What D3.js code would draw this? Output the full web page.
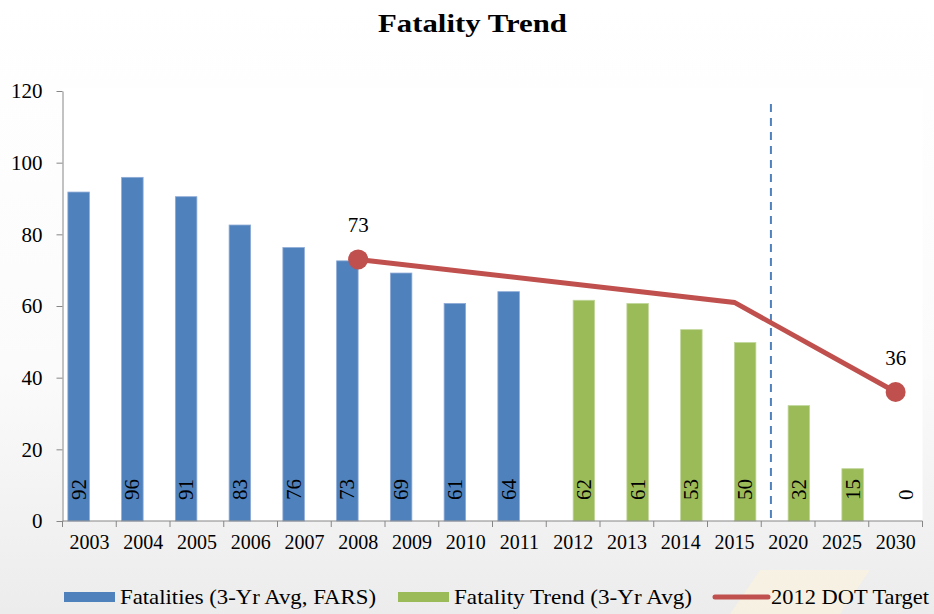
<!DOCTYPE html>
<html>
<head>
<meta charset="utf-8">
<script src="https://cdn.jsdelivr.net/npm/d3@7"></script>
<style>
  body { margin: 0; background: #fff; }
  svg { display: block; }
  text { font-family: "Liberation Serif", "Times New Roman", serif; }
</style>
</head>
<body>
<svg id="chart" width="934" height="614"></svg>
<script>
// data
const years = ["2003", "2004", "2005", "2006", "2007", "2008", "2009", "2010", "2011",
               "2012", "2013", "2014", "2015", "2020", "2025", "2030"];
const fatalities = [91.8, 95.9, 90.5, 82.6, 76.3, 72.6, 69.2, 60.7, 64.0,
                    null, null, null, null, null, null, null];
const fatalityTrend = [null, null, null, null, null, null, null, null, null,
                       61.6, 60.7, 53.4, 49.8, 32.2, 14.6, 0];
const dotTarget = [null, null, null, null, null, 73, null, null, null,
                   null, null, null, 61, null, null, 36];
const targetMarkers = ["2008", "2030"];
const yTicks = [0, 20, 40, 60, 80, 100, 120];
const seriesNames = ["Fatalities (3-Yr Avg, FARS)", "Fatality Trend (3-Yr Avg)", "2012 DOT Target"];

const svg = d3.select("#chart");
const W = 934, H = 614;
const plotL = 62.5, plotR = 922.5, plotT = 91, plotB = 521;

// background, faint gray toward the bottom
const defs = svg.append("defs");
const grad = defs.append("linearGradient").attr("id", "bg").attr("x1", 0).attr("y1", 0).attr("x2", 0).attr("y2", 1);
grad.append("stop").attr("offset", "0%").attr("stop-color", "#ffffff");
grad.append("stop").attr("offset", "60%").attr("stop-color", "#fbfbfb");
grad.append("stop").attr("offset", "100%").attr("stop-color", "#ececec");
svg.append("rect").attr("width", W).attr("height", H).attr("fill", "url(#bg)");
svg.append("path")
  .attr("d", "M730,614 L760,570 L870,570 L840,614 Z")
  .attr("fill", "#fbf3dc").attr("opacity", 0.6);
svg.append("rect")
  .attr("x", plotL).attr("y", plotT - 3)
  .attr("width", plotR - plotL).attr("height", plotB - plotT + 3)
  .attr("fill", "#fff");

// scales
const x = d3.scaleBand().domain(years).range([plotL, plotR]).paddingInner(0).paddingOuter(0);
const x1 = d3.scaleBand().domain(["fat", "trend"]).range([0, x.bandwidth()]).paddingInner(0).paddingOuter(0.25);
const y = d3.scaleLinear().domain([0, 120]).range([plotB, plotT]);

// title (source text is a bit wide, so stretch to its width)
svg.append("text")
  .attr("x", 378).attr("y", 32)
  .attr("font-size", 26).attr("font-weight", "bold")
  .attr("textLength", 189).attr("lengthAdjust", "spacingAndGlyphs")
  .attr("fill", "#000")
  .text("Fatality Trend");

// bars
function drawBars(values, key, color, edge) {
  const data = years.map((yr, i) => ({ yr, v: values[i] })).filter(d => d.v != null);
  svg.append("g").selectAll("rect")
    .data(data.filter(d => d.v > 0))
    .enter().append("rect")
    .attr("x", d => x(d.yr) + x1(key))
    .attr("y", d => y(d.v))
    .attr("width", x1.bandwidth())
    .attr("height", d => y(0) - y(d.v))
    .attr("fill", color)
    .attr("stroke", edge)
    .attr("stroke-width", 0.8);

  svg.append("g").selectAll("text")
    .data(data)
    .enter().append("text")
    .attr("transform", d => `translate(${x(d.yr) + x1(key) + x1.bandwidth() / 2},500) rotate(-90)`)
    .attr("dominant-baseline", "central")
    .attr("font-size", 21)
    .attr("fill", "#000")
    .text(d => d3.format(".0f")(d.v));
}
drawBars(fatalities, "fat", "#4f81bd", "#8eaad6");
drawBars(fatalityTrend, "trend", "#9bbb59", "#c0d69a");

// dashed divider between history and forecast
svg.append("line")
  .attr("x1", x("2020") + x.bandwidth() * 0.18).attr("x2", x("2020") + x.bandwidth() * 0.18)
  .attr("y1", 104).attr("y2", plotB)
  .attr("stroke", "#4f81bd").attr("stroke-width", 2)
  .attr("stroke-dasharray", "8,6");

// axes
const yAxis = svg.append("g")
  .attr("transform", `translate(${plotL},0)`)
  .call(d3.axisLeft(y).tickValues(yTicks).tickSize(6).tickSizeOuter(0).tickPadding(14));
yAxis.selectAll("text").attr("font-size", 21).attr("fill", "#000")
  .style("font-family", '"Liberation Serif", serif');

const xAxis = svg.append("g")
  .attr("transform", `translate(0,${plotB})`)
  .call(d3.axisBottom(x).tickSize(0).tickSizeOuter(0).tickPadding(14));
xAxis.selectAll("text").attr("font-size", 20).attr("fill", "#000")
  .style("font-family", '"Liberation Serif", serif');
xAxis.selectAll(".domain").remove();

const bounds = years.map(d => x(d)).concat([plotR]);
svg.append("g").selectAll("line")
  .data(bounds)
  .enter().append("line")
  .attr("x1", d => d).attr("x2", d => d)
  .attr("y1", plotB).attr("y2", plotB + 6)
  .attr("stroke", "#868686");
svg.append("line")
  .attr("x1", plotL).attr("x2", plotR)
  .attr("y1", plotB).attr("y2", plotB)
  .attr("stroke", "#868686");
svg.selectAll(".domain, .tick line").attr("stroke", "#868686");

// DOT target line
const targetPts = years.map((yr, i) => ({ yr, v: dotTarget[i] })).filter(d => d.v != null);
const cx = d => x(d.yr) + x.bandwidth() / 2;
svg.append("path")
  .datum(targetPts)
  .attr("d", d3.line().x(cx).y(d => y(d.v)))
  .attr("fill", "none")
  .attr("stroke", "#c0504d")
  .attr("stroke-width", 5);

const marks = targetPts.filter(d => targetMarkers.includes(d.yr));
svg.append("g").selectAll("circle")
  .data(marks)
  .enter().append("circle")
  .attr("cx", cx).attr("cy", d => y(d.v))
  .attr("r", 10)
  .attr("fill", "#c0504d");
svg.append("g").selectAll("text")
  .data(marks)
  .enter().append("text")
  .attr("x", cx).attr("y", d => y(d.v) - 27)
  .attr("text-anchor", "middle")
  .attr("font-size", 21)
  .attr("fill", "#000")
  .text(d => d.v);

// legend
const legend = svg.append("g").attr("transform", "translate(0,597)");
const legendItems = [
  { name: seriesNames[0], x: 64, w: 256, color: "#4f81bd", type: "rect" },
  { name: seriesNames[1], x: 398, w: 238, color: "#9bbb59", type: "rect" },
  { name: seriesNames[2], x: 715, w: 158, color: "#c0504d", type: "line" }
];
legendItems.forEach(it => {
  if (it.type === "rect") {
    legend.append("rect").attr("x", it.x).attr("y", -5).attr("width", 51).attr("height", 10).attr("fill", it.color);
  } else {
    legend.append("line").attr("x1", it.x).attr("x2", it.x + 53).attr("y1", 0).attr("y2", 0)
      .attr("stroke", it.color).attr("stroke-width", 5).attr("stroke-linecap", "round");
  }
  legend.append("text")
    .attr("x", it.x + 56).attr("y", 7)
    .attr("font-size", 21)
    .attr("textLength", it.w).attr("lengthAdjust", "spacingAndGlyphs")
    .attr("fill", "#000")
    .text(it.name);
});
</script>
</body>
</html>
